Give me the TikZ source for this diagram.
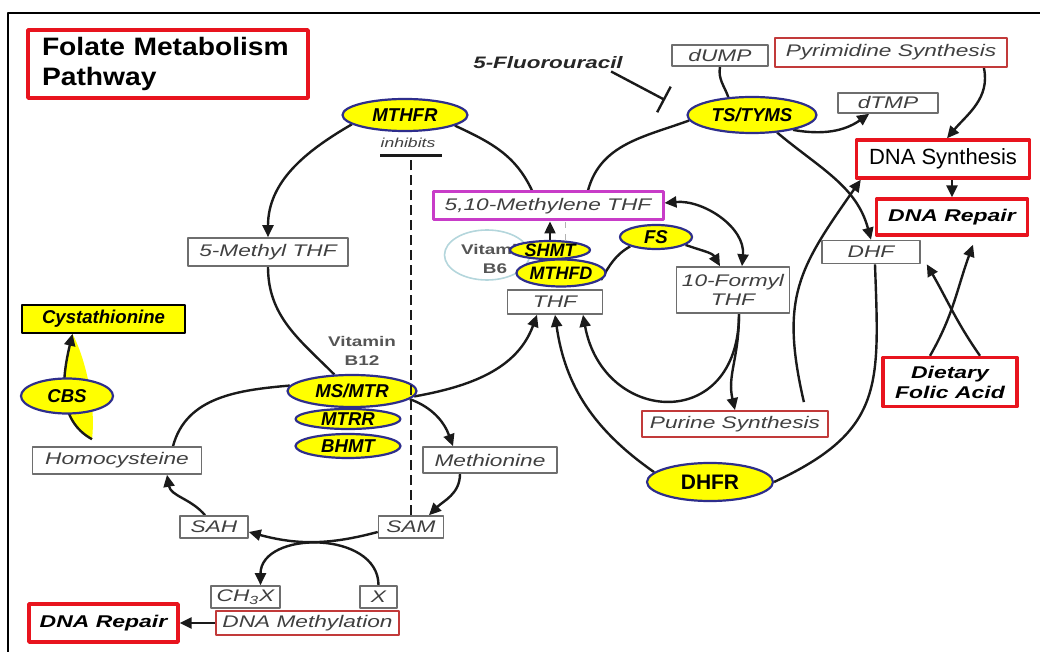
\documentclass[tikz,border=0pt]{standalone}
\usepackage{fontspec}
\setmainfont{Liberation Sans}
\newfontfamily\widefont[FakeStretch=1.35]{Liberation Sans}
\newfontfamily\titlefont[FakeStretch=1.12]{Liberation Sans}
\usetikzlibrary{shapes.geometric,arrows.meta,backgrounds}

\definecolor{linecol}{HTML}{1A1A1A}
\definecolor{boxgray}{HTML}{6E6E6E}
\definecolor{txtgray}{HTML}{404040}
\definecolor{alertred}{HTML}{E8141E}
\definecolor{pinkred}{HTML}{C23A3A}
\definecolor{methmag}{HTML}{C83CC8}
\definecolor{enzyellow}{HTML}{FFFF00}
\definecolor{enzblue}{HTML}{2E2E8C}
\definecolor{bsixblue}{HTML}{B4D6DC}
\definecolor{vitgray}{HTML}{555555}

\tikzset{
  conn/.style={draw=linecol, line width=1.2pt},
  arr/.style={conn, -{Triangle[length=6pt,width=5.5pt]}},
  metab/.style={rectangle, draw=boxgray, line width=0.8pt, fill=white, inner sep=0pt,
    text=txtgray, align=center, font=\widefont\itshape\fontsize{8.4}{9.5}\selectfont},
  outcome/.style={metab, draw=pinkred, line width=0.9pt},
  alertbox/.style={rectangle, draw=alertred, line width=1.7pt, fill=white, inner sep=0pt,
    align=center, font=\widefont\bfseries\itshape\fontsize{8.5}{10}\selectfont},
  enzyme/.style={ellipse, draw=enzblue, line width=1.1pt, fill=enzyellow, inner sep=0pt,
    font=\bfseries\itshape\fontsize{9.3}{11}\selectfont},
  vitlabel/.style={align=center, inner sep=0pt, text=vitgray,
    font=\widefont\bfseries\fontsize{7}{9.5}\selectfont},
}

\begin{document}
\begin{tikzpicture}[x=0.5pt, y=0.5pt, line join=round]

% page and frame
\useasboundingbox (0,0) rectangle (1040,-652);
\draw[line width=1pt, black] (1040,-13) -- (8,-13) -- (8,-652);

% -----------------------------
% Title
% -----------------------------
\node[alertbox, minimum width=140pt, minimum height=34pt, text width=126pt, align=left,
  font=\titlefont\bfseries\fontsize{12.6}{15}\selectfont] (title) at (168,-64)
  {Folate Metabolism\\Pathway};

% -----------------------------
% Folate cycle (upper middle)
% -----------------------------
\node[enzyme, minimum width=62.5pt, minimum height=16pt] (mthfr) at (405,-115) {MTHFR};
\node[inner sep=0pt, text=txtgray, font=\widefont\itshape\fontsize{6.5}{8}\selectfont]
  (inhtxt) at (408,-143) {inhibits};
\coordinate (inhbar) at (411,-154);

\node[metab, minimum width=80pt, minimum height=14pt] (meth5) at (268,-252) {5-Methyl THF};
\node[metab, draw=methmag, line width=1.5pt, minimum width=115pt, minimum height=14pt]
  (mely) at (548,-206) {5,10-Methylene THF};

\node[ellipse, draw=bsixblue, line width=0.8pt, minimum width=42.5pt, minimum height=25pt]
  (vitb6) at (487,-255) {};
\node[vitlabel] (vitb6txt) at (495,-259) {Vitamin\\B6};
\node[enzyme, minimum width=40pt, minimum height=8pt, font=\bfseries\itshape\fontsize{9}{11}\selectfont]
  (shmt) at (550,-250) {SHMT};
\node[enzyme, minimum width=41pt, minimum height=13.5pt, font=\bfseries\itshape\fontsize{9}{11}\selectfont]
  (mthfd) at (561,-273) {MTHFD};
\node[metab, minimum width=47.5pt, minimum height=12pt] (thf) at (555,-302) {THF};

\node[enzyme, minimum width=36pt, minimum height=12pt] (fs) at (656,-237) {FS};
\node[metab, minimum width=56.5pt, minimum height=23pt] (form10) at (733,-290) {10-Formyl\\THF};
\node[outcome, minimum width=93pt, minimum height=13pt] (purine) at (735,-424) {Purine Synthesis};
\node[enzyme, minimum width=63pt, minimum height=19pt, font=\bfseries\fontsize{10.5}{12}\selectfont]
  (dhfr) at (710,-482) {DHFR};
\node[metab, minimum width=49pt, minimum height=11.5pt] (dhf) at (871,-252) {DHF};

% -----------------------------
% Thymidylate branch (upper right)
% -----------------------------
\node[inner sep=0pt, font=\widefont\bfseries\itshape\fontsize{8.3}{10}\selectfont, text=black!85]
  (fu5) at (548,-63) {5-Fluorouracil};
\coordinate (fuend) at (665,-100);
\node[metab, minimum width=48pt, minimum height=10.5pt] (dump) at (720,-55.5) {dUMP};
\node[outcome, minimum width=116pt, minimum height=14.5pt] (pyrim) at (891,-52.5) {Pyrimidine Synthesis};
\node[enzyme, minimum width=64.5pt, minimum height=18pt] (tstyms) at (752,-115) {TS/TYMS};
\node[metab, minimum width=50pt, minimum height=10pt] (dtmp) at (888,-103) {dTMP};

\node[alertbox, minimum width=86.5pt, minimum height=19pt, font=\fontsize{11}{13}\selectfont]
  (dnasyn) at (943,-159) {DNA Synthesis};
\node[alertbox, minimum width=75.5pt, minimum height=18pt] (dnarep1) at (952,-217) {DNA Repair};
\node[alertbox, minimum width=67pt, minimum height=24.5pt] (dietary) at (950,-382) {Dietary\\Folic Acid};

% -----------------------------
% Methionine cycle (lower left)
% -----------------------------
\node[vitlabel] (vitb12) at (362,-351) {Vitamin\\B12};
\node[enzyme, minimum width=64.5pt, minimum height=16pt] (msmtr) at (352,-391) {MS/MTR};
\node[enzyme, minimum width=52.5pt, minimum height=10pt] (mtrr) at (348,-419) {MTRR};
\node[enzyme, minimum width=52.5pt, minimum height=12pt] (bhmt) at (348,-446) {BHMT};

\node[metab, minimum width=67pt, minimum height=13pt] (methionine) at (490,-460) {Methionine};
\node[metab, minimum width=32.5pt, minimum height=11pt] (sam) at (411,-527) {SAM};
\node[metab, minimum width=34pt, minimum height=11pt] (sah) at (214,-527) {SAH};
\node[metab, minimum width=84.5pt, minimum height=13.5pt] (homocys) at (117,-460.5) {Homocysteine};
\node[metab, minimum width=34.5pt, minimum height=11pt] (ch3x) at (245.5,-597) {CH\textsubscript{3}X};
\node[metab, minimum width=18.5pt, minimum height=11pt] (xbox) at (378.5,-597) {X};
\node[outcome, minimum width=91.5pt, minimum height=12pt] (dnameth) at (307.5,-623) {DNA Methylation};
\node[alertbox, minimum width=74.5pt, minimum height=19pt] (dnarep2) at (103.5,-623) {DNA Repair};

\node[rectangle, draw=black, line width=0.8pt, fill=enzyellow, inner sep=0pt,
  minimum width=81.5pt, minimum height=14pt, font=\bfseries\itshape\fontsize{9.3}{11}\selectfont]
  (cysta) at (103.5,-319) {Cystathionine};
\coordinate (cbsfoot) at ([xshift=-12.5pt,yshift=3.5pt]homocys.north);
\coordinate (cbshead) at ([xshift=-15.5pt]cysta.south);

% -----------------------------
% Connectors (behind the nodes)
% -----------------------------
\begin{scope}[on background layer]
  % transsulfuration
  \fill[enzyellow] (cbsfoot) .. controls (57,-420) and (62,-378) .. (cbshead)
    .. controls (86,-360) and (96,-405) .. (cbsfoot) -- cycle;
  \draw[arr] (cbsfoot) .. controls (57,-420) and (62,-378) .. (cbshead);

  % folate cycle
  \draw[arr] (mthfr.190) to[out=210,in=90] (meth5.north);
  \draw[conn] (meth5.south) to[out=270,in=135] (msmtr.137);
  \draw[conn] (mthfr.-12) to[out=-25,in=115] ([xshift=-8pt]mely.north);
  \draw[conn] ([xshift=20pt]mely.north) to[out=75,in=200] (tstyms.185);
  \draw[arr] (shmt.north) -- (shmt.north |- mely.south);
  \draw[gray!60, line width=0.5pt, dashed] ([xshift=7.5pt]shmt.north) -- ([xshift=7.5pt]shmt.north |- mely.south);
  \draw[conn] (mthfd.-10) to[out=60,in=210] (fs.200);
  \draw[arr] (fs.-15) to[out=-20,in=120] ([xshift=-6.5pt]form10.north);
  \draw[conn, {Triangle[length=6pt,width=5.5pt]}-{Triangle[length=6pt,width=5.5pt]}]
    ([yshift=1.5pt]mely.east) to[out=5,in=85] ([xshift=4.5pt]form10.north);
  \draw[arr] ([xshift=3pt]form10.south) .. controls +(0,-120) and +(20,-110) .. ([xshift=14pt]thf.south);
  \draw[arr] ([xshift=3pt]form10.south) .. controls +(0,-45) and +(-8,35) .. (purine.north);
  \draw[arr] (msmtr.-5) to[out=10,in=250] ([xshift=-9pt]thf.south);
  \draw[arr] (dhfr.170) to[out=145,in=-82] (thf.south);
  \draw[conn] ([xshift=2pt]dhf.south) to[out=-88,in=25,looseness=1.3] (dhfr.east);

  % thymidylate branch
  \draw[conn] (dump.south) to[out=-100,in=110] (tstyms.143);
  \draw[arr] (tstyms.-20) to[out=-10,in=215] ([xshift=16pt]dtmp.south west);
  \draw[arr] (tstyms.-35) to[out=-40,in=105] (dhf.north);
  \draw[arr] ([xshift=-12pt]pyrim.south east) to[out=-78,in=50] ([xshift=2pt]dnasyn.north);
  \draw[arr] (dnarep1.north |- dnasyn.south) -- (dnarep1.north);
  \draw[arr] ([xshift=-12.5pt,yshift=4pt]purine.north east) to[out=103,in=235,looseness=1.2]
    ([xshift=3pt]dnasyn.south west);
  \draw[arr] ([xshift=-10pt]dietary.north) to[out=60,in=250] ([xshift=10.5pt,yshift=-4pt]dnarep1.south);
  \draw[arr] ([xshift=15pt]dietary.north) to[out=125,in=-60] ([xshift=3pt]dhf.south east);

  % methionine cycle
  \draw[conn] (msmtr.175) to[out=185,in=75] ([xshift=28pt]homocys.north);
  \draw[arr] (msmtr.-8) to[out=-20,in=110] ([xshift=-18.5pt]methionine.north);
  \draw[arr] ([xshift=-15pt]methionine.south) to[out=-90,in=45] ([xshift=9pt]sam.north);
  \draw[arr] ([yshift=-2.5pt]sam.west) to[bend left=15] ([yshift=-2.5pt]sah.east);
  \draw[arr] (xbox.north) .. controls +(0,55) and +(0,55) .. ([xshift=7.5pt]ch3x.north);
  \draw[arr] ([xshift=-4.5pt]sah.north) to[out=130,in=-80] ([xshift=25pt]homocys.south);
  \draw[arr] (dnameth.west) -- (dnarep2.east);
\end{scope}

% inhibitions on top
\draw[conn, line width=1.4pt, dash pattern=on 5pt off 2.5pt, -{Bar[width=31pt,line width=1.6pt]}]
  (sam.north) -- (inhbar);
\draw[conn, -{Bar[width=14.5pt]}] ([xshift=-6pt,yshift=-1pt]fu5.south east) -- (fuend);

% CBS sits on the transsulfuration arrow
\node[enzyme, minimum width=46pt, minimum height=17.5pt] (cbs) at (67,-396) {CBS};

\end{tikzpicture}
\end{document}
